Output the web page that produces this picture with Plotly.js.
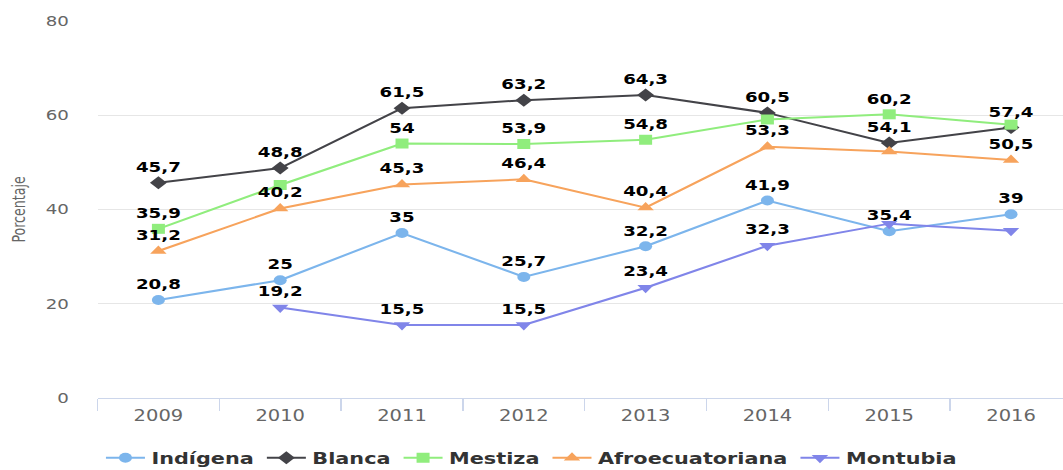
<!DOCTYPE html>
<html>
<head>
<meta charset="utf-8">
<script src="https://cdn.plot.ly/plotly-3.0.1.min.js"></script>
<style>
html,body{margin:0;padding:0;background:#fff;overflow:hidden;}
/* the reference chart is stretched horizontally by ~1.3; reproduce that */
#chart{width:818px;height:470px;transform:scaleX(1.3);transform-origin:0 0;}
</style>
</head>
<body>
<div id="chart"></div>
<script>
const years = ['2009','2010','2011','2012','2013','2014','2015','2016'];
const indigena = [20.8, 25, 35, 25.7, 32.2, 41.9, 35.4, 39];
const blanca = [45.7, 48.8, 61.5, 63.2, 64.3, 60.5, 54.1, 57.4];
const mestiza = [35.9, 45.2, 54, 53.9, 54.8, 59.1, 60.2, 58.0];
const afro = [31.2, 40.2, 45.3, 46.4, 40.4, 53.3, 52.3, 50.5];
const montubia = [null, 19.2, 15.5, 15.5, 23.4, 32.3, 37.0, 35.5];
const yTicks = [0, 20, 40, 60, 80];
const yTitle = 'Porcentaje';

// indices of data labels hidden in the reference (overlap avoidance)
const hiddenIndigena = [];
const hiddenBlanca = [];
const hiddenMestiza = [1, 5, 7];
const hiddenAfro = [6];
const hiddenMontubia = [6, 7];

function labels(vals, hidden) {
  return vals.map((v, i) => (v === null || hidden.includes(i)) ? '' : String(v).replace('.', ','));
}

function mk(name, vals, hidden, color, symbol, size) {
  return {
    type: 'scatter', mode: 'lines+markers+text', name: name,
    x: years, y: vals, text: labels(vals, hidden),
    textposition: 'top center',
    textfont: {family: 'DejaVu Sans', size: 14, color: '#000', weight: 'bold'},
    line: {color: color, width: 2},
    marker: {color: color, symbol: symbol, size: size},
    connectgaps: false, cliponaxis: false, hoverinfo: 'x+y+name'
  };
}

const data = [
  mk('Indígena', indigena, hiddenIndigena, '#7cb5ec', 'circle', 10),
  mk('Blanca', blanca, hiddenBlanca, '#434348', 'diamond', 10),
  mk('Mestiza', mestiza, hiddenMestiza, '#90ed7d', 'square', 10),
  mk('Afroecuatoriana', afro, hiddenAfro, '#f7a35c', 'triangle-up', 11),
  mk('Montubia', montubia, hiddenMontubia, '#8085e9', 'triangle-down', 11)
];

const layout = {
  width: 818, height: 470,
  margin: {l: 75, r: 0, t: 21, b: 72, autoexpand: false},
  paper_bgcolor: '#fff', plot_bgcolor: '#fff',
  showlegend: true,
  legend: {orientation: 'h', x: 0.5, xref: 'container', xanchor: 'center',
    y: 0.026, yref: 'container', yanchor: 'middle',
    font: {family: 'DejaVu Sans', size: 16, color: '#333', weight: 'bold'},
    itemwidth: 30},
  xaxis: {
    type: 'category', range: [-0.5, 7.43], tickson: 'boundaries',
    ticks: 'outside', ticklen: 12, tickcolor: '#ccd6eb', tickwidth: 1,
    showline: true, linecolor: '#ccd6eb', linewidth: 1,
    showgrid: false, zeroline: false, ticklabelstandoff: 4,
    tickfont: {family: 'DejaVu Sans', size: 15, color: '#666'}
  },
  yaxis: {
    range: [0, 80], tickvals: yTicks, ticktext: yTicks.map(String),
    showgrid: true, gridcolor: '#e6e6e6', zeroline: false, showline: false,
    ticks: '', ticklabelstandoff: 21,
    tickfont: {family: 'DejaVu Sans', size: 14, color: '#666'}
  },
  annotations: [{
    text: yTitle, xref: 'paper', yref: 'paper', x: -0.082, y: 0.5,
    xanchor: 'center', yanchor: 'middle', textangle: -90, showarrow: false,
    font: {family: 'DejaVu Sans Condensed, DejaVu Sans', size: 14, color: '#666'}
  }]
};

Plotly.newPlot('chart', data, layout, {displayModeBar: false, staticPlot: true});
</script>
</body>
</html>
